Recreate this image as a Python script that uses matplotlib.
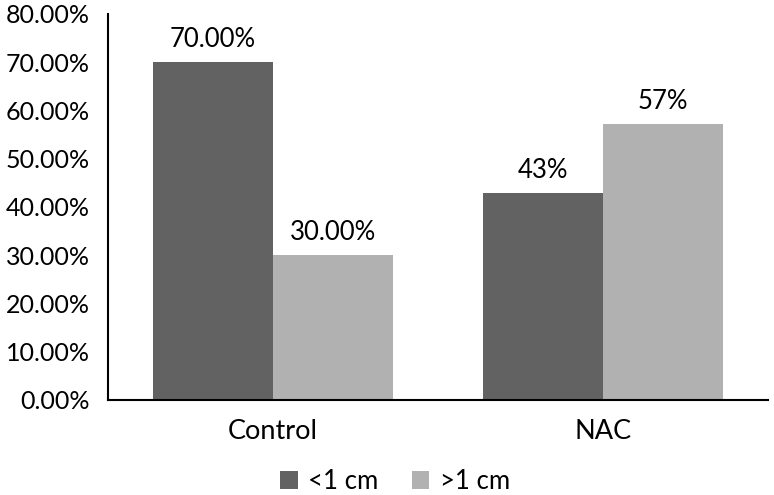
import matplotlib; matplotlib.use("Agg")
import matplotlib.pyplot as plt
import numpy as np

plt.rcParams['font.family'] = ['Lato', 'DejaVu Sans']

groups = ["Control", "NAC"]
series = ["<1 cm", ">1 cm"]
small = [70.0, 42.86]
large = [30.0, 57.14]
small_lbl = ["70.00%", "43%"]
large_lbl = ["30.00%", "57%"]
colors = ["#626262", "#b1b1b1"]

fig = plt.figure(figsize=(7.74, 4.95), dpi=100)
ax = fig.add_axes([0.1395, 0.192, 0.8525, 0.780])

x = np.arange(len(groups))
w = 0.3636
b1 = ax.bar(x - w/2, small, w, color=colors[0], label=series[0])
b2 = ax.bar(x + w/2, large, w, color=colors[1], label=series[1])
ax.bar_label(b1, labels=small_lbl, padding=7, fontsize=18.5)
ax.bar_label(b2, labels=large_lbl, padding=7, fontsize=18.5)

ax.set_xlim(-0.5, 1.5)
ax.set_ylim(0, 80)
ax.set_yticks(np.arange(0, 81, 10))
ax.set_yticklabels([f"{v:.2f}%" for v in np.arange(0, 81, 10)])
ax.set_xticks(x)
ax.set_xticklabels(groups, fontsize=19.5)
ax.tick_params(length=0)
ax.tick_params(axis="y", labelsize=18, pad=13)
ax.tick_params(axis="x", pad=14)
for s in ["top", "right"]:
    ax.spines[s].set_visible(False)
for s in ["left", "bottom"]:
    ax.spines[s].set_linewidth(1.5)

fig.legend(loc="lower center", ncol=2, frameon=False, fontsize=18.5,
           bbox_to_anchor=(0.51, -0.045), handlelength=0.7, handleheight=0.7,
           columnspacing=1.3, handletextpad=0.4)
fig.savefig("out.png", dpi=100)
